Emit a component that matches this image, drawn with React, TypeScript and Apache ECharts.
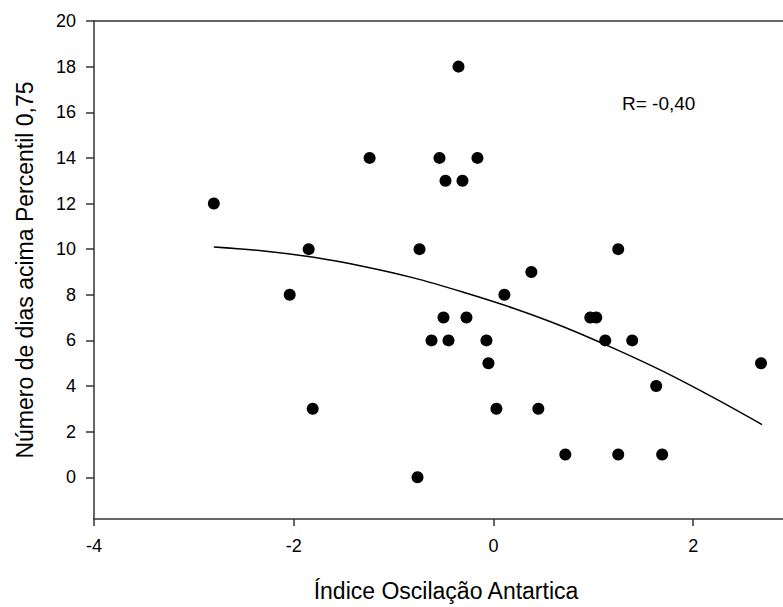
import React, { useEffect, useRef } from "react";
import * as echarts from "echarts";

// Índice Oscilação Antartica (x) vs Número de dias acima Percentil 0,75 (y)
const aaoIndex = [
  -2.8, -2.04, -1.85, -1.81, -1.24, -0.76, -0.74, -0.62, -0.54, -0.5, -0.48,
  -0.45, -0.35, -0.31, -0.27, -0.16, -0.07, -0.05, 0.03, 0.11, 0.38, 0.45,
  0.72, 0.97, 1.03, 1.12, 1.25, 1.25, 1.39, 1.63, 1.69, 2.68,
];
const daysAbove = [
  12, 8, 10, 3, 14, 0, 10, 6, 14, 7, 13, 6, 18, 13, 7, 14, 6, 5, 3, 8, 9, 3, 1,
  7, 7, 6, 10, 1, 6, 4, 1, 5,
];

// Regression curve
const fitX = [-2.8, -2.3, -1.8, -1.3, -0.8, -0.3, 0.2, 0.7, 1.2, 1.7, 2.2, 2.69];
const fitY = [10.09, 9.92, 9.64, 9.24, 8.74, 8.11, 7.41, 6.6, 5.66, 4.64, 3.5, 2.31];

const xTicks = [-4, -2, 0, 2];
const yTicks = [0, 2, 4, 6, 8, 10, 12, 14, 16, 18, 20];

const xTitle = "Índice Oscilação Antartica";
const yTitle = "Número de dias acima Percentil 0,75";
const rLabel = "R= -0,40";

const FONT = "Arial, 'Liberation Sans', sans-serif";

export default function App() {
  const ref = useRef<HTMLDivElement>(null);

  useEffect(() => {
    if (!ref.current) return;
    const chart = echarts.init(ref.current, undefined, { renderer: "svg" });
    const axisColor = "#333333";
    const option: any = {
      animation: false,
      backgroundColor: "#ffffff",
      grid: { left: 94, right: 0, top: 21, bottom: 81.3, containLabel: false },
      xAxis: [
        {
          type: "value",
          min: -4,
          max: 2.9,
          position: "bottom",
          name: xTitle,
          nameLocation: "middle",
          nameGap: 60,
          nameTextStyle: { fontFamily: FONT, fontSize: 23, color: "#000", padding: [0, 0, 0, 15] },
          axisLine: { show: true, onZero: false, lineStyle: { color: axisColor, width: 1.5 } },
          axisTick: { show: true, length: 7, inside: false, customValues: xTicks, lineStyle: { color: axisColor, width: 1.5 } },
          axisLabel: { show: true, margin: 18, customValues: xTicks, fontFamily: FONT, fontSize: 18, color: "#000" },
          splitLine: { show: false },
        },
        {
          type: "value",
          min: -4,
          max: 2.9,
          position: "top",
          axisLine: { show: true, onZero: false, lineStyle: { color: axisColor, width: 1.5 } },
          axisTick: { show: false },
          axisLabel: { show: false },
          splitLine: { show: false },
        },
      ],
      yAxis: {
        type: "value",
        min: -1.83,
        max: 20,
        name: yTitle,
        nameLocation: "middle",
        nameGap: 58,
        nameTextStyle: { fontFamily: FONT, fontSize: 23, color: "#000" },
        axisLine: { show: true, onZero: false, lineStyle: { color: axisColor, width: 1.5 } },
        axisTick: { show: true, length: 8, inside: false, customValues: yTicks, lineStyle: { color: axisColor, width: 1.5 } },
        axisLabel: { show: true, margin: 18, customValues: yTicks, fontFamily: FONT, fontSize: 18, color: "#000" },
        splitLine: { show: false },
      },
      series: [
        {
          type: "line",
          xAxisIndex: 0,
          data: fitX.map((x, i) => [x, fitY[i]]),
          smooth: 0.3,
          showSymbol: false,
          symbol: "none",
          lineStyle: { color: "#000", width: 1.5 },
          z: 2,
        },
        {
          type: "scatter",
          xAxisIndex: 0,
          data: aaoIndex.map((x, i) => [x, daysAbove[i]]),
          symbol: "circle",
          symbolSize: 12,
          itemStyle: { color: "#000", opacity: 1 },
          z: 3,
        },
      ],
      graphic: [
        {
          type: "text",
          x: 622,
          y: 103,
          style: {
            text: rLabel,
            font: `19px ${FONT}`,
            fill: "#000",
            textAlign: "left",
            textVerticalAlign: "middle",
          },
        },
      ],
    };
    chart.setOption(option);
    return () => chart.dispose();
  }, []);

  return (
    <div
      ref={ref}
      style={{ position: "fixed", left: 0, top: 0, width: 783, height: 607, background: "#fff" }}
    />
  );
}
